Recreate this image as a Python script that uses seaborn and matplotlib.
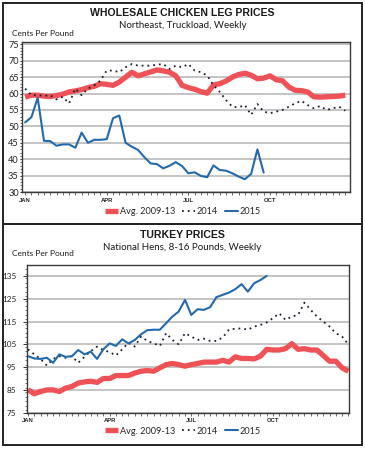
import matplotlib
matplotlib.use("Agg")
import matplotlib.pyplot as plt
from matplotlib.patches import Rectangle
from matplotlib.ticker import MultipleLocator
import numpy as np
import pandas as pd
import seaborn as sns

# ---------------- data ----------------
chicken_avg = [58.9, 59.5, 59.5, 59.2, 59.1, 59.4, 59.8, 60.5, 60.8, 61.2,
               61.8, 62.2, 63.0, 62.8, 62.5, 63.5, 65.0, 66.5, 65.4, 66.0,
               66.6, 67.2, 66.9, 66.5, 65.4, 62.5, 61.8, 61.3, 60.6, 60.1,
               62.6, 63.0, 63.8, 65.0, 65.8, 66.2, 65.6, 64.5, 64.7, 65.4,
               64.2, 63.9, 62.0, 61.0, 60.9, 60.5, 59.0, 58.9, 59.0, 59.1,
               59.2, 59.5]
chicken_2014 = [61.5, 59.5, 59.5, 59.3, 59.5, 58.2, 59.0, 57.0, 61.5, 59.5,
                61.5, 62.5, 64.0, 67.0, 67.0, 66.5, 68.0, 69.0, 68.5, 68.5,
                68.5, 68.8, 69.0, 67.5, 68.5, 68.0, 69.0, 67.0, 66.5, 65.5,
                62.5, 60.5, 58.0, 56.0, 55.8, 56.5, 53.5, 56.8, 54.5, 54.0,
                54.5, 55.0, 56.0, 57.0, 57.8, 56.5, 55.5, 56.2, 55.0, 55.5,
                56.0, 54.8]
chicken_2015 = [51.2, 52.8, 58.7, 45.6, 45.5, 44.1, 44.5, 44.5, 43.5, 48.1,
                45.0, 45.9, 45.9, 46.1, 52.5, 53.3, 45.0, 43.8, 42.8, 40.6,
                38.7, 38.5, 37.2, 38.0, 39.1, 37.9, 35.7, 36.0, 34.9, 34.5,
                38.1, 36.7, 36.5, 35.7, 34.7, 33.9, 35.5, 43.0, 35.9]

turkey_avg = [85.1, 83.3, 84.3, 85.0, 85.0, 84.3, 85.8, 86.5, 88.0, 88.5,
              88.8, 88.3, 90.0, 90.0, 91.3, 91.3, 91.3, 92.4, 93.2, 93.5,
              93.2, 94.7, 96.1, 96.6, 96.1, 95.4, 96.1, 96.6, 97.2, 97.2,
              97.2, 98.0, 97.2, 99.5, 98.8, 98.8, 98.6, 99.8, 102.8, 102.5,
              102.5, 103.1, 105.3, 102.8, 103.1, 102.5, 102.5, 100.1, 97.6, 97.6,
              94.7, 93.2]
turkey_2014 = [102.8, 100.6, 98.6, 95.7, 98.6, 99.8, 99.1, 99.8, 96.9, 99.5,
               102.0, 104.0, 102.5, 101.6, 100.1, 102.8, 105.7, 104.0, 108.4, 106.5,
               105.4, 104.3, 109.9, 106.9, 105.0, 109.9, 108.4, 106.9, 107.5, 106.5,
               106.5, 108.0, 111.5, 111.8, 112.0, 111.4, 112.8, 113.5, 114.6, 116.5,
               118.6, 115.7, 117.2, 117.9, 123.3, 120.1, 117.2, 115.0, 112.8, 109.9,
               108.4, 105.0]
turkey_2015 = [99.8, 98.8, 98.6, 99.1, 96.9, 100.6, 99.5, 99.8, 102.5, 100.6,
               101.8, 98.6, 102.8, 105.4, 104.3, 107.2, 105.4, 106.9, 109.4, 111.2,
               111.4, 111.4, 114.3, 117.2, 119.4, 124.5, 117.9, 120.4, 120.1, 121.3,
               125.7, 126.7, 127.7, 129.2, 131.4, 128.1, 131.8, 133.2, 135.0]

month_labels = ["JAN", "APR", "JUL", "OCT"]
month_weeks = [0, 13, 26, 39]
series_names = ["Avg. 2009-13", "2014", "2015"]

RED = "#ee5156"
BLUE = "#2369ac"
DOT = "#1c1f33"
W, H = 365, 451
SOFT = ["Lato", "DejaVu Sans"]

sns.set_theme(style="white")
plt.rcParams["font.family"] = ["Liberation Sans", "DejaVu Sans"]

fig = plt.figure(figsize=(W / 100, H / 100), dpi=100)


def fx(px):
    return px / W


def fy(py):
    return 1 - py / H


def make_df(vals, name):
    return pd.DataFrame({"week": np.arange(len(vals)), "value": vals, "series": name})


def draw_panel(ax_box, series, ylim, yticks, yminor, xlim, title, subtitle,
               title_y, sub_y, cpp_y, legend_y, tick_pad, tick_len, ysize):
    l, t, r, b = ax_box
    ax = fig.add_axes([fx(l), fy(b), fx(r - l), (b - t) / H])
    avg, y14, y15 = series
    sns.lineplot(data=make_df(avg, series_names[0]), x="week", y="value", ax=ax,
                 color=RED, lw=3.8, label=series_names[0], solid_capstyle="butt")
    sns.lineplot(data=make_df(y14, series_names[1]), x="week", y="value", ax=ax,
                 color=DOT, lw=1.3, linestyle=(0, (1, 2.2)), label=series_names[1])
    sns.lineplot(data=make_df(y15, series_names[2]), x="week", y="value", ax=ax,
                 color=BLUE, lw=1.5, label=series_names[2])
    ax.set_xlim(*xlim)
    ax.set_ylim(*ylim)
    ax.set_yticks(yticks)
    ax.yaxis.set_minor_locator(MultipleLocator(yminor))
    ax.set_xticks(month_weeks)
    ax.set_xticklabels(month_labels)
    ax.xaxis.set_minor_locator(MultipleLocator(1))
    ax.set_xlabel("")
    ax.set_ylabel("")
    ax.grid(axis="y", color="#b4b4b4", lw=1.1)
    ax.grid(axis="x", visible=False)
    ax.set_axisbelow(True)
    for s in ax.spines.values():
        s.set_color("#3a3a3a")
        s.set_linewidth(1.0)
    ax.tick_params(axis="y", which="major", labelsize=ysize, length=tick_len,
                   width=0.7, pad=tick_pad, color="#333333", left=True,
                   labelcolor="#222222")
    ax.tick_params(axis="y", which="minor", length=1.5, width=0.5,
                   color="#333333", left=True)
    ax.tick_params(axis="x", which="both", length=2, width=0.5, color="#333333",
                   bottom=True, labelsize=4.2, pad=2)
    for lab in ax.get_yticklabels():
        lab.set_family(SOFT)
    for lab in ax.get_xticklabels():
        lab.set_fontweight("bold")
    ax.get_legend().remove()
    fig.text(0.5, fy(title_y), title, ha="center", va="center", fontsize=7.6,
             fontweight="bold", color="#1a1a1a")
    fig.text(0.5, fy(sub_y), subtitle, ha="center", va="center", fontsize=7.0,
             color="#1a1a1a", family=SOFT)
    fig.text(fx(12), fy(cpp_y), "Cents Per Pound", ha="left", va="center",
             fontsize=6.0, color="#1a1a1a", family=SOFT)
    handles, labels = ax.get_legend_handles_labels()
    fig.legend(handles, labels, loc="center", bbox_to_anchor=(fx(183), fy(legend_y)),
               ncol=3, frameon=False, handlelength=1.4,
               handletextpad=0.15, columnspacing=0.8, borderaxespad=0,
               prop={"family": SOFT, "size": 6.6})
    return ax


draw_panel((22, 41.7, 350, 192), (chicken_avg, chicken_2014, chicken_2015),
           (30, 75.8), [30, 35, 40, 45, 50, 55, 60, 65, 70, 75], 1,
           (-0.5, 51.75), "WHOLESALE CHICKEN LEG PRICES",
           "Northeast, Truckload, Weekly", 13.5, 25.5, 34, 212, 0.8, 1.5, 6.6)

draw_panel((26.7, 265, 349, 412.7), (turkey_avg, turkey_2014, turkey_2015),
           (75, 139.8), [75, 85, 95, 105, 115, 125, 135], 2,
           (-0.2, 51.1), "TURKEY PRICES",
           "National Hens, 8-16 Pounds, Weekly", 235, 247, 254, 431, 4.5, 3, 5.9)

# panel frames
fig.add_artist(Rectangle((fx(2.5), fy(224)), fx(359.5), (224 - 3) / H,
                         transform=fig.transFigure, fill=False, lw=1.4,
                         edgecolor="#222222"))
fig.add_artist(Rectangle((fx(2.5), fy(445)), fx(359.5), (445 - 224) / H,
                         transform=fig.transFigure, fill=False, lw=1.4,
                         edgecolor="#222222"))

fig.savefig("out.png", dpi=100)
